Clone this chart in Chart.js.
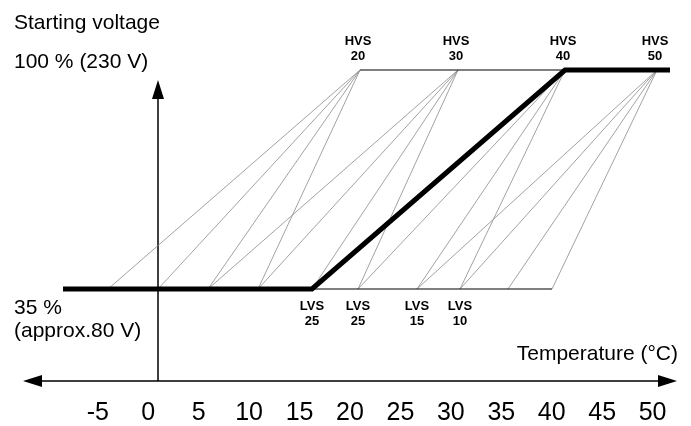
<!DOCTYPE html>
<html>
<head>
<meta charset="utf-8">
<script src="https://cdn.jsdelivr.net/npm/chart.js@4.4.1/dist/chart.umd.min.js"></script>
<style>
  html, body { margin: 0; padding: 0; background: #fff; }
  #wrap { width: 691px; height: 426px; }
</style>
</head>
<body>
<div id="wrap"><canvas id="voltageChart"></canvas></div>
<script>
// values (temperature in °C, voltage in %)
const tickLabels = [-5, 0, 5, 10, 15, 20, 25, 30, 35, 40, 45, 50];
const hvsNames = ['20', '30', '40', '50'];
const hvsTemps = [20.2, 30, 40.7, 49.9];
const lvsNames = ['25', '25', '15', '10'];
const lvsTemps = [15.4, 20, 25.9, 30.2];
const lowTemps = [-5, 0, 5, 10, 15.4, 20, 25.9, 30.2, 35, 39.4];
// which lowTemps each HVS point is joined to
const fanLinks = [[0, 1, 2, 3], [2, 3, 4, 5], [5, 6, 7], [6, 7, 8, 9]];
const curveTemps = [-9.5, 15.4, 40.7, 51.2];
const curveVoltage = [35, 35, 100, 100];
const lowVoltage = 35;
const highVoltage = 100;
const axisVoltage = 7.7;
const axisTopVoltage = 97;
const axisTempRange = [-13.5, 51.9];

document.addEventListener('DOMContentLoaded', () => {
    const FONT = '"Liberation Sans", Arial, sans-serif';

    function fanData() {
        const pts = [];
        fanLinks.forEach((links, i) => {
            links.forEach(j => {
                pts.push({x: hvsTemps[i], y: highVoltage});
                pts.push({x: lowTemps[j], y: lowVoltage});
                pts.push({x: lowTemps[j], y: null});
            });
        });
        return pts;
    }

    const axesPlugin = {
        id: 'axesPlugin',
        beforeDatasetsDraw(chart) {
            const {ctx, scales: {xd, y}} = chart;
            const ya = y.getPixelForValue(axisVoltage);
            const xl = xd.getPixelForValue(axisTempRange[0]);
            const xr = xd.getPixelForValue(axisTempRange[1]);
            const x0 = xd.getPixelForValue(0);
            const yt = y.getPixelForValue(axisTopVoltage);
            const len = 19, half = 6;
            ctx.save();
            ctx.strokeStyle = '#000';
            ctx.fillStyle = '#000';
            ctx.lineWidth = 1.5;
            ctx.beginPath();
            ctx.moveTo(xl + len - 2, ya);
            ctx.lineTo(xr - len + 2, ya);
            ctx.moveTo(x0, ya);
            ctx.lineTo(x0, yt + len - 2);
            ctx.stroke();
            ctx.beginPath();
            ctx.moveTo(xl, ya);
            ctx.lineTo(xl + len, ya - half);
            ctx.lineTo(xl + len, ya + half);
            ctx.closePath();
            ctx.moveTo(xr, ya);
            ctx.lineTo(xr - len, ya - half);
            ctx.lineTo(xr - len, ya + half);
            ctx.closePath();
            ctx.moveTo(x0, yt);
            ctx.lineTo(x0 - half, yt + len);
            ctx.lineTo(x0 + half, yt + len);
            ctx.closePath();
            ctx.fill();
            ctx.restore();
        },
        afterDatasetsDraw(chart) {
            const {ctx, scales: {xd, y}} = chart;
            const yHigh = y.getPixelForValue(highVoltage);
            const yLow = y.getPixelForValue(lowVoltage);
            ctx.save();
            ctx.fillStyle = '#000';
            ctx.textBaseline = 'alphabetic';
            ctx.font = '21px ' + FONT;
            ctx.textAlign = 'left';
            ctx.fillText('Starting voltage', 14, 29);
            ctx.fillText('100 % (230 V)', 14, 68);
            ctx.fillText('35 %', 14, 314);
            ctx.fillText('(approx.80 V)', 14, 337);
            ctx.textAlign = 'right';
            ctx.fillText('Temperature (°C)', 678, 360);

            ctx.font = 'bold 13px ' + FONT;
            ctx.textAlign = 'center';
            hvsTemps.forEach((t, i) => {
                const px = xd.getPixelForValue(t) - 2;
                ctx.fillText('HVS', px, yHigh - 25);
                ctx.fillText(hvsNames[i], px, yHigh - 10);
            });
            lvsTemps.forEach((t, i) => {
                const px = xd.getPixelForValue(t);
                ctx.fillText('LVS', px, yLow + 21);
                ctx.fillText(lvsNames[i], px, yLow + 36);
            });
            ctx.restore();
        }
    };

    const canvas = document.getElementById('voltageChart');

    new Chart(canvas, {
        type: 'line',
        data: {
            datasets: [{
                label: 'Curve',
                data: curveTemps.map((t, i) => ({x: t, y: curveVoltage[i]})),
                xAxisID: 'xd',
                borderColor: '#000',
                borderWidth: 5,
                borderJoinStyle: 'miter',
                pointRadius: 0,
                order: 0,
            }, {
                label: 'Top',
                data: [{x: hvsTemps[0], y: highVoltage}, {x: curveTemps[2], y: highVoltage}],
                xAxisID: 'xd',
                borderColor: '#000',
                borderWidth: 1.2,
                pointRadius: 0,
                order: 1,
            }, {
                label: 'Bottom',
                data: [{x: curveTemps[1], y: lowVoltage}, {x: lowTemps[lowTemps.length - 1], y: lowVoltage}],
                xAxisID: 'xd',
                borderColor: '#000',
                borderWidth: 1.2,
                pointRadius: 0,
                order: 1,
            }, {
                label: 'Fan',
                data: fanData(),
                xAxisID: 'xd',
                borderColor: '#8a8a8a',
                borderWidth: 0.8,
                pointRadius: 0,
                spanGaps: false,
                order: 2,
            }]
        },
        options: {
            responsive: true,
            maintainAspectRatio: false,
            animation: false,
            layout: {
                padding: {left: 25, right: 13, top: 36.3, bottom: 0}
            },
            elements: {
                line: {tension: 0}
            },
            scales: {
                x: {
                    type: 'linear',
                    position: 'bottom',
                    min: -12.22,
                    max: 52.52,
                    afterBuildTicks: function (axis) {
                        axis.ticks = tickLabels.map(v => ({value: v}));
                    },
                    grid: {display: false, drawTicks: false},
                    border: {display: false},
                    ticks: {
                        autoSkip: false,
                        maxRotation: 0,
                        padding: 0,
                        color: '#000',
                        font: {family: FONT, size: 25, lineHeight: 1},
                    }
                },
                xd: {
                    type: 'linear',
                    display: false,
                    min: -13.3,
                    max: 52.0,
                },
                y: {
                    type: 'linear',
                    display: false,
                    min: 1.76,
                    max: 110,
                }
            },
            plugins: {
                legend: {display: false},
                tooltip: {enabled: false},
            }
        },
        plugins: [axesPlugin]
    });
});
</script>
</body>
</html>
